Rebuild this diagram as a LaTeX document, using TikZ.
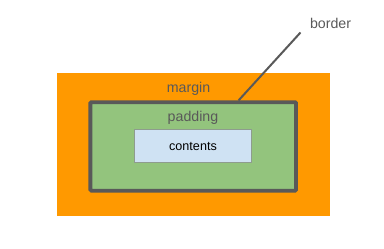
\documentclass[tikz,border=0pt]{standalone}
\usepackage{fontspec}
\setmainfont{Liberation Sans}
\usetikzlibrary{positioning}
\definecolor{boxNaranja}{HTML}{FF9900}
\definecolor{boxVerde}{HTML}{93C47D}
\definecolor{boxAzul}{HTML}{CFE2F3}
\definecolor{boxGris}{HTML}{595959}
\definecolor{boxBorde}{HTML}{8E9C8E}
\begin{document}
\begin{tikzpicture}[x=1pt, y=-1pt, every node/.style={inner sep=0pt, outer sep=0pt},
    label/.style={text=boxGris, font=\fontsize{14.2}{16}\selectfont}]
    \useasboundingbox (0,0) rectangle (384,249);
    \node[fill=boxNaranja, minimum width=273pt, minimum height=143pt] (margen) at (193.5,144.5) {};
    \node[fill=boxVerde, draw=boxGris, line width=3.8pt, rounded corners=1pt,
          minimum width=205.7pt, minimum height=88.5pt] (relleno) at (193.2,146.4) {};
    \node[fill=boxAzul, draw=boxBorde, line width=1pt,
          minimum width=117pt, minimum height=33pt, font=\fontsize{12.6}{14}\selectfont] (contenido) at (193,146) {contents};
    \node[label] (txtMargen) at (188.5,88.5) {margin};
    \node[label] (txtRelleno) at (193,117.5) {padding};
    \node[label, anchor=west] (txtBorde) at (310,23.5) {border};
    \coordinate (pie) at (238.5,100.5);
    \coordinate (punta) at (300.5,32.5);
    \draw[boxGris, line width=2pt] (pie) -- (punta);
  \end{tikzpicture}
\end{document}
